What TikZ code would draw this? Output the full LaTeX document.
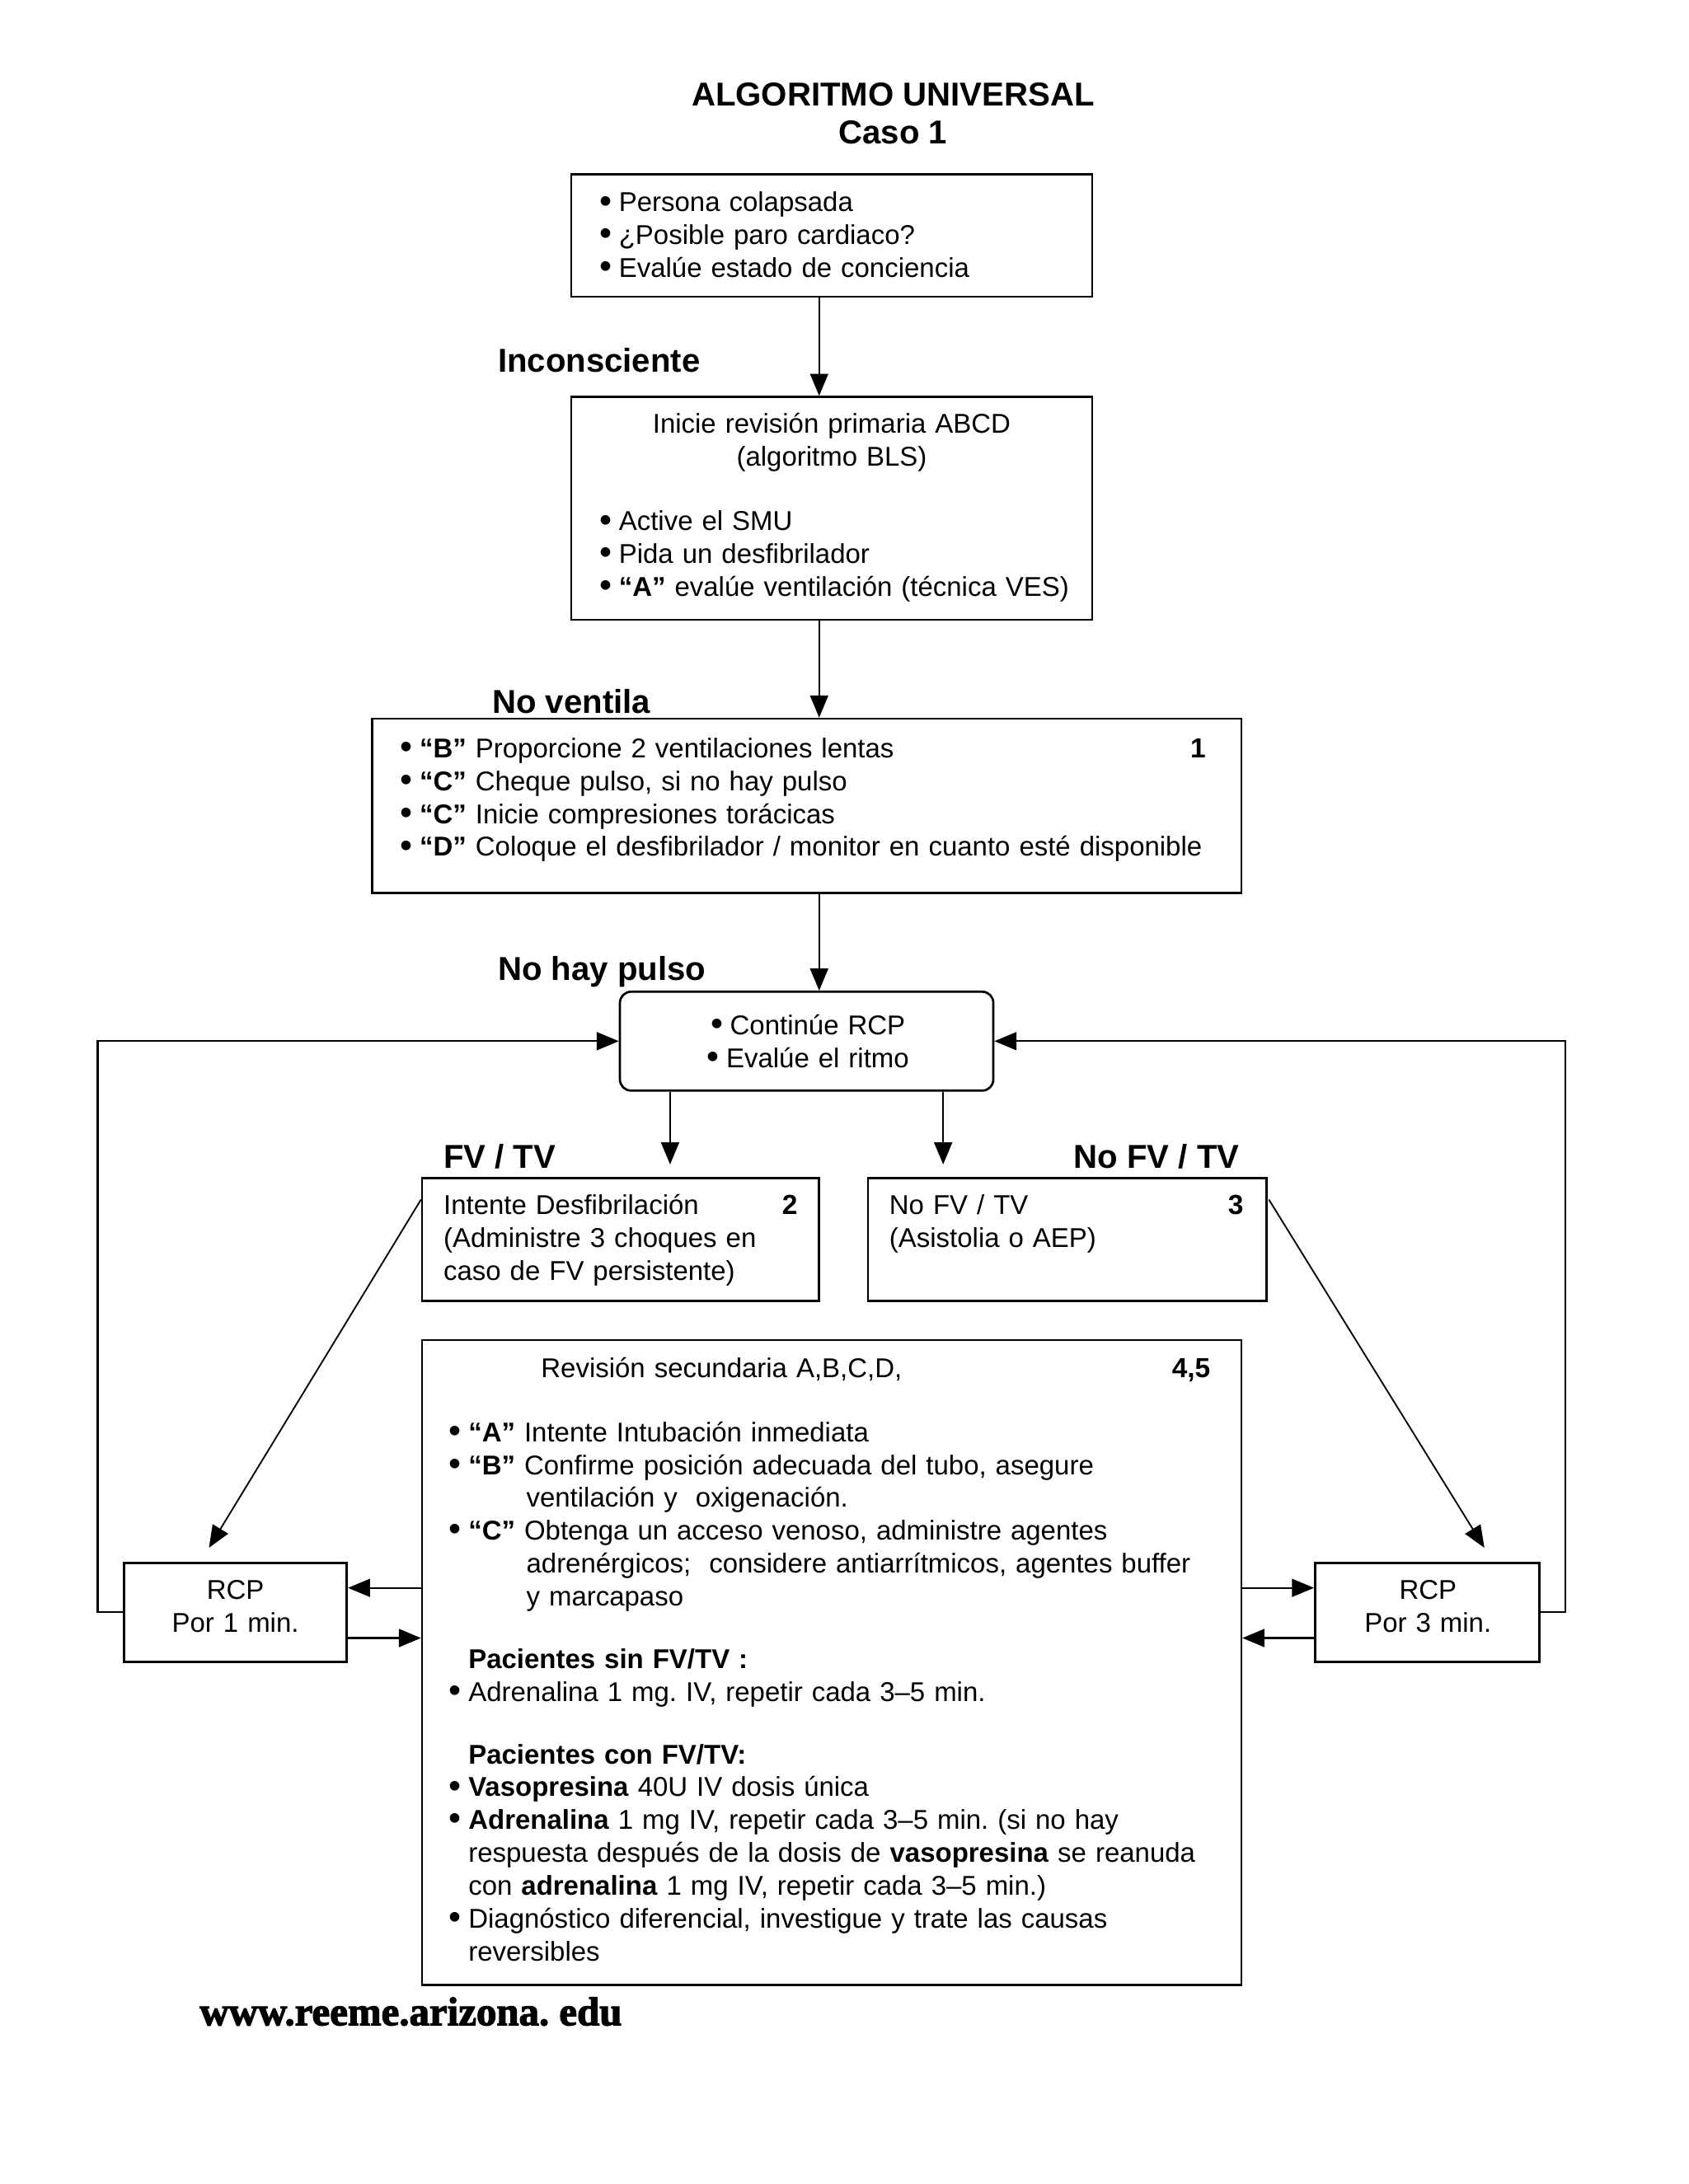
\documentclass[tikz,border=0pt]{standalone}
\usepackage{fontspec}
\setmainfont{Liberation Sans}
\newfontfamily\footfont{Liberation Serif}[BoldFeatures={FakeBold=2.5}]
\usetikzlibrary{arrows.meta,fit,calc}
\newcommand\mybul{\makebox[7pt][l]{\raisebox{-0.35pt}{\scalebox{1.3}{•}}}}
\frenchspacing
\begin{document}
\begin{tikzpicture}[x=0.50495pt,y=-0.50495pt,
  box/.style={draw,line width=0.8pt,inner sep=0pt},
  txt/.style={font=\fontsize{9.85}{11.9}\selectfont,inner sep=0pt,anchor=base west,text width=330pt,align=left},
  ctxt/.style={font=\fontsize{9.85}{11.9}\selectfont,inner sep=0pt,anchor=base,text width=200pt,align=center},
  num/.style={font=\fontsize{10}{12}\selectfont\bfseries,inner sep=0pt,anchor=base},
  lbl/.style={font=\fontsize{12}{14}\selectfont\bfseries,inner sep=0pt,anchor=base west},
  ttl/.style={font=\fontsize{12}{14}\selectfont\bfseries,inner sep=0pt,anchor=base},
  arr/.style={line width=0.7pt,-{Triangle[length=8pt,width=6.5pt]}},
  darr/.style={line width=0.55pt,-{Triangle[length=8pt,width=6.5pt]}}]
\useasboundingbox (0,0) rectangle (1212,1568);

% titles
\node[ttl] (t0a) at (641,76) {ALGORITMO UNIVERSAL};
\node[ttl] (t0b) at (641,103) {Caso 1};

% boxes
\node[box,fit={(410,125) (784,213)}] (b1) {};
\node[box,fit={(410,285) (784,445)}] (b2) {};
\node[box,fit={(267,516) (891,641)}] (b3) {};
\node[box,rounded corners=4pt,fit={(445,712) (713,783)}] (b4) {};
\node[box,fit={(303,846) (588,934)}] (b5) {};
\node[box,fit={(623,846) (909,934)}] (b6) {};
\node[box,fit={(303,962) (891,1425)}] (b7) {};
\node[box,fit={(89,1122) (249,1193)}] (b8) {};
\node[box,fit={(944,1122) (1105,1193)}] (b9) {};

% box texts
\node[txt] (t1) at (430,152) {\mybul Persona colapsada\\
\mybul ¿Posible paro cardiaco?\\
\mybul Evalúe estado de conciencia};

\node[ctxt] (t2a) at (597,311) {Inicie revisión primaria ABCD\\(algoritmo BLS)};
\node[txt] (t2b) at (430,381) {\mybul Active el SMU\\
\mybul Pida un desfibrilador\\
\mybul\textbf{“A”} evalúe ventilación (técnica VES)};

\node[txt] (t3) at (287,544) {\mybul\textbf{“B”} Proporcione 2 ventilaciones lentas\\
\mybul\textbf{“C”} Cheque pulso, si no hay pulso\\
\mybul\textbf{“C”} Inicie compresiones torácicas\\
\mybul\textbf{“D”} Coloque el desfibrilador / monitor en cuanto esté disponible};
\node[num] (n1) at (860,544) {1};

\node[ctxt] (t4) at (580,743) {\mybul Continúe RCP\\\mybul Evalúe el ritmo};

\node[txt] (t5) at (318,872) {Intente Desfibrilación\\
(Administre 3 choques en\\
caso de FV persistente)};
\node[num] (n2) at (567,872) {2};

\node[txt] (t6) at (638,872) {No FV / TV\\
(Asistolia o AEP)};
\node[num] (n3) at (887,872) {3};

\node[txt] (t7a) at (388,989) {Revisión secundaria A,B,C,D,};
\node[num] (n45) at (855,989) {4,5};
\node[txt] (t7b) at (322,1035) {\mybul\textbf{“A”} Intente Intubación inmediata\\
\mybul\textbf{“B”} Confirme posición adecuada del tubo, asegure\\
\hspace*{28pt}ventilación y\ \ oxigenación.\\
\mybul\textbf{“C”} Obtenga un acceso venoso, administre agentes\\
\hspace*{28pt}adrenérgicos;\ \ considere antiarrítmicos, agentes buffer\\
\hspace*{28pt}y marcapaso\\[10.8pt]
\hspace*{7pt}\textbf{Pacientes sin FV/TV :}\\
\mybul Adrenalina 1 mg. IV, repetir cada 3–5 min.\\[10.8pt]
\hspace*{7pt}\textbf{Pacientes con FV/TV:}\\
\mybul\textbf{Vasopresina} 40U IV dosis única\\
\mybul\textbf{Adrenalina} 1 mg IV, repetir cada 3–5 min. (si no hay\\
\hspace*{7pt}respuesta después de la dosis de \textbf{vasopresina} se reanuda\\
\hspace*{7pt}con \textbf{adrenalina} 1 mg IV, repetir cada 3–5 min.)\\
\mybul Diagnóstico diferencial, investigue y trate las causas\\
\hspace*{7pt}reversibles};

\node[ctxt] (t8) at (169,1148) {RCP\\Por 1 min.};
\node[ctxt] (t9) at (1025,1148) {RCP\\Por 3 min.};

% labels
\node[lbl] (l1) at (357,267) {Inconsciente};
\node[lbl] (l2) at (353,512) {No ventila};
\node[lbl] (l3) at (357,704) {No hay pulso};
\node[lbl] (l4) at (318,839) {FV / TV};
\node[lbl,anchor=base east] (l5) at (890,839) {No FV / TV};

% footer
\node[inner sep=0pt,anchor=base west,font=\footfont\bfseries\fontsize{14.6}{16}\selectfont] (ft) at (143,1454) {www.reeme.arizona. edu};

% connectors
\coordinate (xm) at (588,0);
\coordinate (xl) at (481,0);
\coordinate (xr) at (677,0);
\coordinate (ye) at (0,836);
\coordinate (yU) at (0,1140);
\coordinate (yD) at (0,1176);

\draw[arr] (b1.south -| xm) -- (b2.north -| xm);
\draw[arr] (b2.south -| xm) -- (b3.north -| xm);
\draw[arr] (b3.south -| xm) -- (b4.north -| xm);
\draw[arr] (b4.south -| xl) -- (xl |- ye);
\draw[arr] (b4.south -| xr) -- (xr |- ye);

\draw[darr] ($(b5.north west)+(0,16)$) -- ($(b8.north)+(-19,-10)$);
\draw[darr] ($(b6.north east)+(1,16)$) -- ($(b9.north)+(41,-10)$);

\draw[arr] (b7.west |- yU) -- (b8.east |- yU);
\draw[arr] (b8.east |- yD) -- (b7.west |- yD);
\draw[arr] (b7.east |- yU) -- (b9.west |- yU);
\draw[arr] (b9.west |- yD) -- (b7.east |- yD);

\draw[arr] (b8.west) -- ++(-18,0) |- (b4.west);
\draw[arr] (b9.east) -- ++(18,0) |- (b4.east);
\end{tikzpicture}
\end{document}
